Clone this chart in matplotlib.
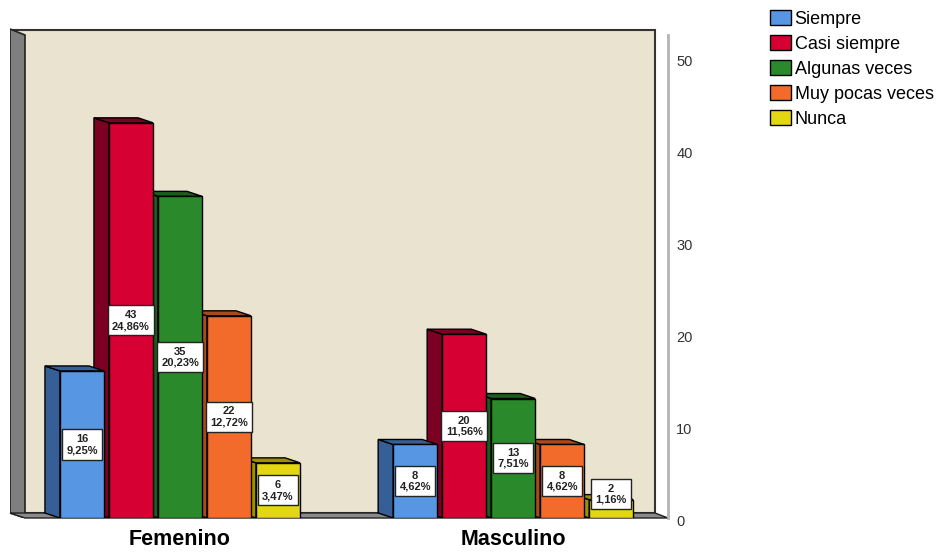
import matplotlib.pyplot as plt
from matplotlib.patches import Polygon, Rectangle, Patch
from matplotlib.transforms import ScaledTranslation

plt.rcParams['font.family'] = ['Liberation Sans', 'DejaVu Sans']

groups = ['Femenino', 'Masculino']
answers = ['Siempre', 'Casi siempre', 'Algunas veces', 'Muy pocas veces', 'Nunca']
femenino = [16, 43, 35, 22, 6]
masculino = [8, 20, 13, 8, 2]
counts = [femenino, masculino]

front_colors = ['#5796e2', '#d60032', '#2a892b', '#f26b2b', '#e3d612']
side_colors = ['#365f98', '#7c0021', '#1c5c1c', '#a84a1c', '#9c9200']

# layout in pixels of the 946x552 canvas
W, H = 946, 552
PX_X = 49.0       # one bar slot
PX_Y = 9.19       # one count unit
X0, Y0 = 180, 518  # first group centre, baseline
group_pos = [0, 6.8]
bar_w = 0.9
dx, dy = -15 / PX_X, 5 / PX_Y   # depth offset of the 3D bars


def px(x, y):
    return ((x - X0) / PX_X, (Y0 - y) / PX_Y)


fig = plt.figure(figsize=(W / 100, H / 100), dpi=100)
ax = fig.add_axes([10 / W, (H - Y0) / H, 658 / W, (Y0 - 20) / H])
ax.set_xlim((10 - X0) / PX_X, (668 - X0) / PX_X)
ax.set_ylim(0, (Y0 - 20) / PX_Y)

# walls and floor
ax.add_patch(Polygon([px(10, 30), px(655, 30), px(655, 513), px(10, 513)],
                     closed=True, fc='#e9e3cf', ec='#333333', lw=1.5, zorder=1))
ax.add_patch(Polygon([px(10, 29), px(25, 35), px(25, 518), px(10, 513)],
                     closed=True, fc='#7f7f7f', ec='#222222', lw=1.2, zorder=2))
ax.add_patch(Polygon([px(10, 513), px(655, 513), px(668, 518), px(25, 518)],
                     closed=True, fc='#8a8a8a', ec='#222222', lw=1.0, zorder=2,
                     clip_on=False))

total = sum(femenino) + sum(masculino)

for g, vals in zip(group_pos, counts):
    # right to left so the left bar hides its neighbour's side face
    for i in reversed(range(len(vals))):
        v = vals[i]
        x0 = g + (i - 2) - bar_w / 2
        x1 = x0 + bar_w
        z = 3 + (len(vals) - i)
        ax.add_patch(Polygon([(x0, 0), (x0, v), (x0 + dx, v + dy), (x0 + dx, dy)],
                             closed=True, fc=side_colors[i], ec='black', lw=1, zorder=z))
        ax.add_patch(Polygon([(x0, v), (x1, v), (x1 + dx, v + dy), (x0 + dx, v + dy)],
                             closed=True, fc=side_colors[i], ec='black', lw=1, zorder=z))
        ax.add_patch(Rectangle((x0, 0), bar_w, v, fc=front_colors[i], ec='black',
                               lw=1, zorder=z))
        pct = f'{v / total * 100:.2f}'.replace('.', ',')
        ax.text(g + (i - 2), max(v / 2, 2.6), f'{v}\n{pct}%', ha='center', va='center',
                fontsize=8, fontweight='bold', linespacing=1.15, color='#222222',
                zorder=20,
                bbox=dict(boxstyle='square,pad=0.4', fc='white', ec='#222222', lw=1))

# value axis on the right
for s in ['top', 'left', 'bottom']:
    ax.spines[s].set_visible(False)
ax.spines['right'].set_color('#b4b4b4')
ax.spines['right'].set_linewidth(2)
ax.spines['right'].set_bounds(0, (Y0 - 35) / PX_Y)
ax.yaxis.tick_right()
ax.set_yticks([0, 10, 20, 30, 40, 50])
ax.tick_params(axis='y', length=0, pad=6, labelsize=10.5, labelcolor='#333333')
shift = ScaledTranslation(0, -2 / 100, fig.dpi_scale_trans)
for lbl in ax.get_yticklabels():
    lbl.set_transform(lbl.get_transform() + shift)
ax.set_xticks(group_pos)
ax.set_xticklabels(groups, fontsize=15.5, fontweight='bold')
ax.tick_params(axis='x', length=0, pad=8)

handles = [Patch(fc=c, ec='black', lw=1) for c in front_colors]
fig.legend(handles, answers, loc='upper left', bbox_to_anchor=(763 / W, 1 - 3 / H),
           frameon=False, fontsize=13, handlelength=1.15, handleheight=0.85,
           handletextpad=0.2, labelspacing=0.42, borderaxespad=0)

fig.savefig('out.png', dpi=100)
